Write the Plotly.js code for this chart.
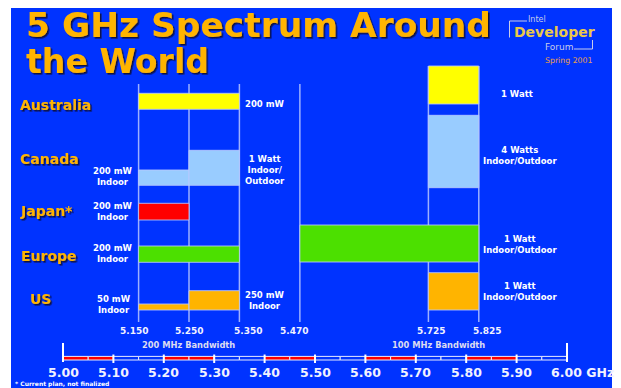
<!DOCTYPE html>
<html><head><meta charset="utf-8">
<script src="https://cdn.plot.ly/plotly-3.0.1.min.js"></script>
<style>html,body{margin:0;padding:0;background:#fff}#chart{width:621px;height:388px}</style>
</head><body><div id="chart"></div>
<script>
// ---------------- data ----------------
const titleLines = ['5 GHz Spectrum Around', 'the World'];
const regions = ['Australia', 'Canada', 'Japan*', 'Europe', 'US'];
const bandEdges = [5.150, 5.250, 5.350, 5.470, 5.725, 5.825];
const bandEdgeLabels = ['5.150', '5.250', '5.350', '5.470', '5.725', '5.825'];
const bandwidthLabels = ['200 MHz Bandwidth', '100 MHz Bandwidth'];
const bandwidthCenters = [5.25, 5.775];
const scaleTicks = [5.00, 5.10, 5.20, 5.30, 5.40, 5.50, 5.60, 5.70, 5.80, 5.90, 6.00];
const scaleTickLabels = ['5.00', '5.10', '5.20', '5.30', '5.40', '5.50', '5.60', '5.70', '5.80', '5.90', '6.00 GHz'];
const allocRegion = ['Australia', 'Australia', 'Canada', 'Canada', 'Canada', 'Japan*', 'Europe', 'Europe', 'US', 'US', 'US'];
const allocStart  = [5.150, 5.725, 5.150, 5.250, 5.725, 5.150, 5.150, 5.470, 5.150, 5.250, 5.725];
const allocEnd    = [5.350, 5.825, 5.250, 5.350, 5.825, 5.250, 5.350, 5.825, 5.250, 5.350, 5.825];
const allocPower  = ['200 mW', '1 Watt', '200 mW<br>Indoor', '1 Watt<br>Indoor/<br>Outdoor', '4 Watts<br>Indoor/Outdoor',
                     '200 mW<br>Indoor', '200 mW<br>Indoor', '1 Watt<br>Indoor/Outdoor', '50 mW<br>Indoor', '250 mW<br>Indoor', '1 Watt<br>Indoor/Outdoor'];
// drawn bar height (schematic power level)
const allocLevel  = [16, 38, 15.3, 35, 72.4, 16.7, 16.3, 37, 6, 19.3, 37.3];
const footnote = '* Current plan, not finalized';
const logoTexts = ['Intel', 'Developer', 'Forum', 'Spring 2001'];

// ---------------- layout helpers (pixel placement) ----------------
const PX0 = 63, PXPERGHZ = 504;               // slide scale: 5.00 GHz at x=63px
const px2x = px => 5 + (px - PX0) / PXPERGHZ;
const regionColor = {'Australia': '#FFFF00', 'Canada': '#99CCFF', 'Japan*': '#FF0000', 'Europe': '#4CE000', 'US': '#FFB400'};
const barBase = [109.3, 104, 185.3, 185.3, 187.7, 220, 262.3, 262, 310, 310, 310];
const labelPos = [[264.5, 103.5], [517, 94], [113, 176.7], [265, 169.5], [520, 155], [113, 211.7],
                  [113, 253], [520, 244.5], [113.5, 304], [264.5, 300.5], [520, 291.3]];
const regionLabelPos = {'Australia': [18, 105], 'Canada': [18, 158.5], 'Japan*': [18, 210.5], 'Europe': [19, 256], 'US': [28, 298.5]};
const edgeShift = [-4.5, 0, 9, -6, 3, 8.5];
const titleLength = [465, 183];
const ORANGE = '#FFB400';
const LINE = 'rgba(185,200,255,0.85)';
const BOLD = 'DejaVu Sans, Verdana, sans-serif';

// ---------------- traces ----------------
const allocTrace = {
  type: 'bar',
  x: allocStart.map((s, i) => (s + allocEnd[i]) / 2),
  width: allocStart.map((s, i) => allocEnd[i] - s),
  base: barBase,
  y: allocLevel.map(h => -h),
  marker: {color: allocRegion.map(r => regionColor[r]), line: {color: LINE, width: 1}},
  hoverinfo: 'skip', showlegend: false
};

// scale bar: 0.05 GHz segments, alternating red / blue every 0.1 GHz
const segX = [], segC = [];
for (let i = 0; i < scaleTicks.length - 1; i++) {
  const a = scaleTicks[i], b = scaleTicks[i + 1], m = (a + b) / 2;
  segX.push((a + m) / 2, (m + b) / 2);
  const c = i % 2 === 0 ? '#FF0000' : '#0033FF';
  segC.push(c, c);
}
const scaleTrace = {
  type: 'bar', x: segX, width: segX.map(() => 0.05), base: segX.map(() => 360), y: segX.map(() => -3.6),
  marker: {color: segC, line: {color: '#E8ECFF', width: 1}},
  hoverinfo: 'skip', showlegend: false
};

// ---------------- shapes ----------------
const shapes = [];
bandEdges.forEach((e, i) => {
  shapes.push({type: 'line', xref: 'x', yref: 'y', x0: e, x1: e, y0: i < 4 ? 84 : 66, y1: 322,
               line: {color: LINE, width: 1.5}, layer: 'below'});
});
scaleTicks.forEach((t, i) => {
  const end = (i === 0 || i === scaleTicks.length - 1);
  shapes.push({type: 'line', xref: 'x', yref: 'y', x0: t, x1: t, y0: end ? 343 : 354.5, y1: end ? 362 : 363,
               line: {color: '#FFFFFF', width: 2}, layer: 'above'});
});
// logo brackets
shapes.push({type: 'path', xref: 'x', yref: 'y',
  path: `M ${px2x(509.5)} 37.5 L ${px2x(509.5)} 21 L ${px2x(527)} 21`, line: {color: '#C8CCE8', width: 1}});
shapes.push({type: 'path', xref: 'x', yref: 'y',
  path: `M ${px2x(574)} 49 L ${px2x(592.5)} 49 L ${px2x(592.5)} 40`, line: {color: '#C8CCE8', width: 1}});

// ---------------- annotations ----------------
const ann = [];
const shadowIdx = [];
function add(a, shadow) { if (shadow) shadowIdx.push(ann.length); ann.push(Object.assign({xref: 'x', yref: 'y', showarrow: false}, a)); return ann.length - 1; }

const titleIdx = [
  add({x: px2x(24), y: 25, xanchor: 'left', yanchor: 'middle', align: 'left', text: titleLines[0],
       font: {family: BOLD, size: 33, color: ORANGE, weight: 'bold'}}, true),
  add({x: px2x(24), y: 61.5, xanchor: 'left', yanchor: 'middle', align: 'left', text: titleLines[1],
       font: {family: BOLD, size: 33, color: ORANGE, weight: 'bold'}}, true)
];

regions.forEach(r => {
  const p = regionLabelPos[r];
  add({x: px2x(p[0]), y: p[1], xanchor: 'left', yanchor: 'middle', text: r,
       font: {family: BOLD, size: 14, color: ORANGE, weight: 'bold'}}, true);
});

allocPower.forEach((t, i) => {
  const p = labelPos[i];
  add({x: px2x(p[0]), y: p[1], xanchor: 'center', yanchor: 'middle', align: 'center', text: t,
       font: {family: BOLD, size: 8.5, color: '#FFFFFF', weight: 'bold'}});
});

bandEdgeLabels.forEach((t, i) => {
  add({x: bandEdges[i], xshift: edgeShift[i], y: 330.5, xanchor: 'center', yanchor: 'middle', text: t,
       font: {family: BOLD, size: 9, color: '#F2F2FF', weight: 'bold'}});
});
bandwidthLabels.forEach((t, i) => {
  add({x: bandwidthCenters[i], xshift: i === 0 ? -0.5 : -15.5, y: 344.5, xanchor: 'center', yanchor: 'middle', text: t,
       font: {family: BOLD, size: 8.3, color: '#DCDCF0', weight: 'bold'}});
});
scaleTickLabels.forEach((t, i) => {
  const last = i === scaleTickLabels.length - 1;
  add({x: scaleTicks[i], xshift: last ? -18.5 : 0, y: 372.5, xanchor: last ? 'left' : 'center', yanchor: 'middle', text: t,
       font: {family: BOLD, size: 12.5, color: '#F2F2FF', weight: 'bold'}});
});
add({x: px2x(13), y: 383.8, xanchor: 'left', yanchor: 'middle', text: footnote,
     font: {family: BOLD, size: 6, color: '#FFFFFF', weight: 'bold'}});

// logo
add({x: px2x(536.5), y: 19.5, xanchor: 'center', yanchor: 'middle', text: logoTexts[0],
     font: {family: 'DejaVu Sans, sans-serif', size: 8, color: '#C8CCE8'}});
add({x: px2x(554), y: 32, xanchor: 'center', yanchor: 'middle', text: logoTexts[1],
     font: {family: BOLD, size: 14, color: '#EAC84A', weight: 'bold'}});
add({x: px2x(559), y: 47, xanchor: 'center', yanchor: 'middle', text: logoTexts[2],
     font: {family: 'DejaVu Sans, sans-serif', size: 9, color: '#C8CCE8'}});
add({x: px2x(569), y: 60.5, xanchor: 'center', yanchor: 'middle', text: logoTexts[3],
     font: {family: 'DejaVu Sans, sans-serif', size: 7.8, color: '#E8A048'}});

const layout = {
  width: 621, height: 388,
  margin: {l: 11, r: 9, t: 8, b: 0, pad: 0},
  paper_bgcolor: '#FFFFFF', plot_bgcolor: '#0033FF',
  barmode: 'overlay', bargap: 0,
  xaxis: {range: [px2x(11), px2x(612)], visible: false, fixedrange: true},
  yaxis: {range: [388, 8], visible: false, fixedrange: true},
  shapes: shapes, annotations: ann, showlegend: false
};

Plotly.newPlot('chart', [allocTrace, scaleTrace], layout, {staticPlot: true, displayModeBar: false}).then(gd => {
  const svg = gd.querySelector('.main-svg');
  const ns = 'http://www.w3.org/2000/svg';
  let defs = svg.querySelector('defs');
  if (!defs) { defs = document.createElementNS(ns, 'defs'); svg.insertBefore(defs, svg.firstChild); }
  const f = document.createElementNS(ns, 'filter');
  f.setAttribute('id', 'txtshadow');
  f.setAttribute('x', '-10%'); f.setAttribute('y', '-30%'); f.setAttribute('width', '130%'); f.setAttribute('height', '170%');
  const d = document.createElementNS(ns, 'feDropShadow');
  d.setAttribute('dx', '1.6'); d.setAttribute('dy', '1.6'); d.setAttribute('stdDeviation', '0.6');
  d.setAttribute('flood-color', '#101030'); d.setAttribute('flood-opacity', '0.9');
  f.appendChild(d); defs.appendChild(f);
  shadowIdx.forEach(i => {
    const t = gd.querySelector('.annotation[data-index="' + i + '"] text');
    if (t) t.setAttribute('filter', 'url(#txtshadow)');
  });
  titleIdx.forEach((idx, k) => {
    const t = gd.querySelector('.annotation[data-index="' + idx + '"] text');
    if (t) { t.setAttribute('textLength', titleLength[k]); t.setAttribute('lengthAdjust', 'spacingAndGlyphs'); }
  });
});
</script></body></html>
